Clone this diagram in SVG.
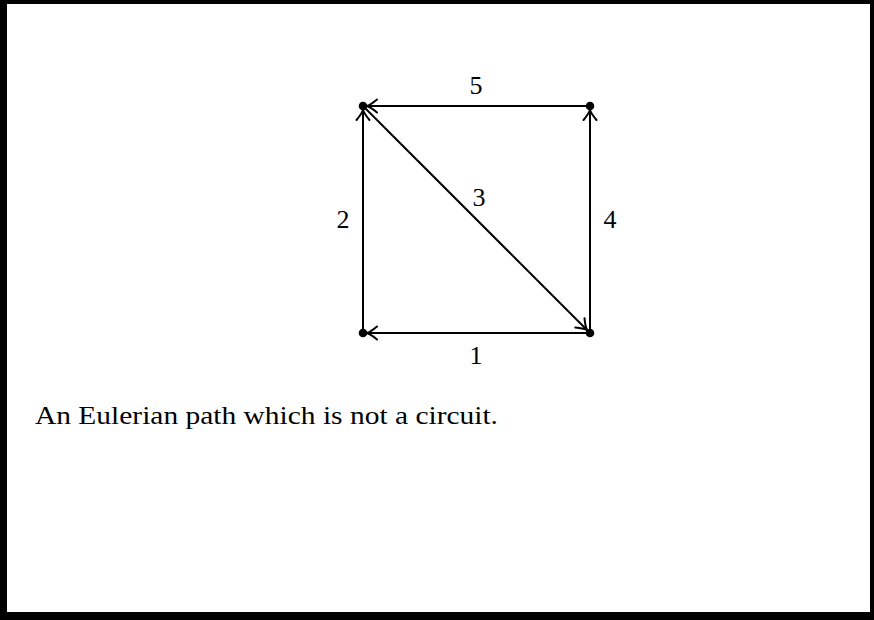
<svg xmlns="http://www.w3.org/2000/svg" width="874" height="620" viewBox="0 0 874 620">
<style>
.e{stroke:#000;stroke-width:2;fill:none;marker-end:url(#ar)}
.d{fill:#000}
.t{font-family:"Liberation Serif","DejaVu Serif",serif;font-size:26px;fill:#000}
</style>
<defs>
<marker id="ar" markerUnits="userSpaceOnUse" markerWidth="24" markerHeight="24" viewBox="-12 -12 24 24" refX="0" refY="0" orient="auto">
<path d="M-10,-6.5 Q-4,-1.5 0,0 Q-4,1.5 -10,6.5" fill="none" stroke="#000" stroke-width="2" stroke-linecap="round"/>
</marker>
</defs>
<rect x="0" y="0" width="874" height="620" fill="#000"/>
<rect x="7" y="4" width="863" height="608" fill="#fff"/>
<g id="edges">
<path class="e" d="M590,333 L367,333"/>
<path class="e" d="M363,333 L363,110"/>
<path class="e" d="M363,106 L587,330"/>
<path class="e" d="M590,333 L590,110"/>
<path class="e" d="M590,106 L367,106"/>
</g>
<g id="n_tl"><circle class="d" cx="363" cy="106" r="4.3"/></g>
<g id="n_tr"><circle class="d" cx="590" cy="106" r="4.3"/></g>
<g id="n_bl"><circle class="d" cx="363" cy="333" r="4.3"/></g>
<g id="n_br"><circle class="d" cx="590" cy="333" r="4.3"/></g>
<g id="labels">
<text class="t" x="476" y="94" text-anchor="middle">5</text>
<text class="t" x="343" y="228" text-anchor="middle">2</text>
<text class="t" x="479" y="206" text-anchor="middle">3</text>
<text class="t" x="610" y="228" text-anchor="middle">4</text>
<text class="t" x="476" y="364" text-anchor="middle">1</text>
</g>
<text class="t" x="35" y="424" textLength="463" lengthAdjust="spacingAndGlyphs">An Eulerian path which is not a circuit.</text>
</svg>
